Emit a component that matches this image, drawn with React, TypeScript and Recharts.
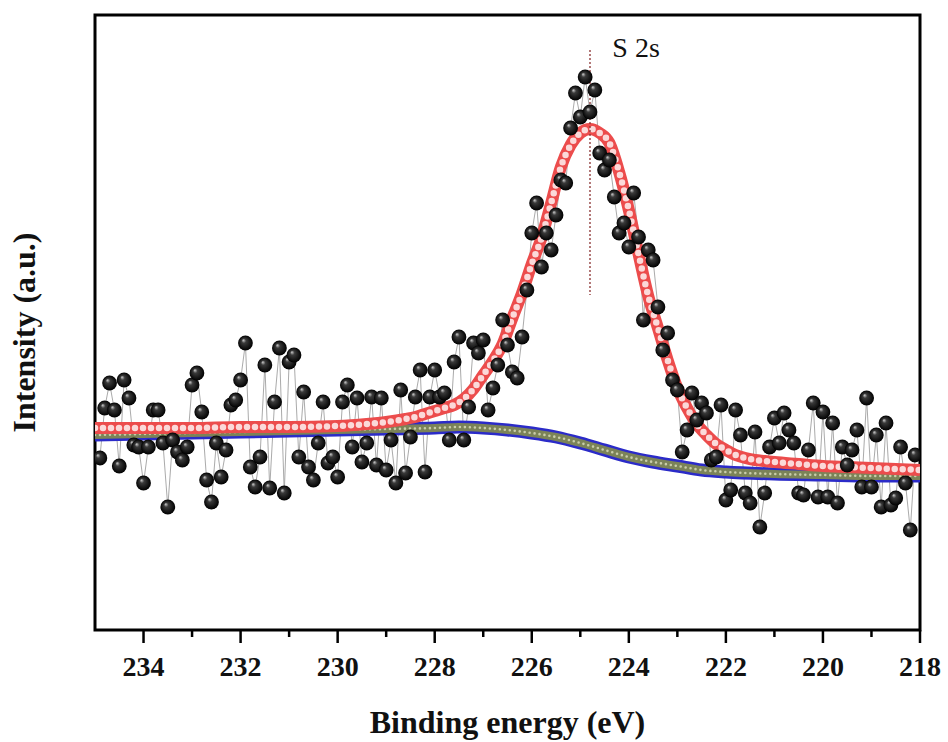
import React from "react";
import {
  ComposedChart, Line, XAxis, YAxis, Label, ReferenceArea, ReferenceLine, ReferenceDot,
} from "recharts";

const FONT = '"Liberation Serif", "Times New Roman", serif';

// measured spectrum (binding energy, eV)
const DATA_BE = [
  234.9, 234.8, 234.7, 234.6, 234.5, 234.4, 234.3, 234.2, 234.1, 234.0,
  233.9, 233.8, 233.7, 233.6, 233.5, 233.4, 233.3, 233.2, 233.1, 233.0,
  232.9, 232.8, 232.7, 232.6, 232.5, 232.4, 232.3, 232.2, 232.1, 232.0,
  231.9, 231.8, 231.7, 231.6, 231.5, 231.4, 231.3, 231.2, 231.1, 231.0,
  230.9, 230.8, 230.7, 230.6, 230.5, 230.4, 230.3, 230.2, 230.1, 230.0,
  229.9, 229.8, 229.7, 229.6, 229.5, 229.4, 229.3, 229.2, 229.1, 229.0,
  228.9, 228.8, 228.7, 228.6, 228.5, 228.4, 228.3, 228.2, 228.1, 228.0,
  227.9, 227.8, 227.7, 227.6, 227.5, 227.4, 227.3, 227.2, 227.1, 227.0,
  226.9, 226.8, 226.7, 226.6, 226.5, 226.4, 226.3, 226.2, 226.1, 226.0,
  225.9, 225.8, 225.7, 225.6, 225.5, 225.4, 225.3, 225.2, 225.1, 225.0,
  224.9, 224.8, 224.7, 224.6, 224.5, 224.4, 224.3, 224.2, 224.1, 224.0,
  223.9, 223.8, 223.7, 223.6, 223.5, 223.4, 223.3, 223.2, 223.1, 223.0,
  222.9, 222.8, 222.7, 222.6, 222.5, 222.4, 222.3, 222.2, 222.1, 222.0,
  221.9, 221.8, 221.7, 221.6, 221.5, 221.4, 221.3, 221.2, 221.1, 221.0,
  220.9, 220.8, 220.7, 220.6, 220.5, 220.4, 220.3, 220.2, 220.1, 220.0,
  219.9, 219.8, 219.7, 219.6, 219.5, 219.4, 219.3, 219.2, 219.1, 219.0,
  218.9, 218.8, 218.7, 218.6, 218.5, 218.4, 218.3, 218.2, 218.1,
];
const DATA_INT = [
  172, 222, 247, 220, 164, 250, 232, 185, 183, 147,
  183, 220, 220, 187, 123, 190, 178, 170, 183, 245,
  257, 218, 150, 128, 187, 153, 180, 225, 230, 250,
  287, 163, 143, 173, 265, 142, 228, 282, 137, 268,
  275, 173, 238, 163, 150, 187, 228, 167, 173, 153,
  228, 245, 183, 232, 168, 187, 233, 165, 232, 160,
  190, 147, 240, 157, 193, 233, 260, 158, 233, 260,
  233, 237, 190, 268, 293, 190, 223, 287, 277, 290,
  220, 242, 265, 310, 285, 258, 252, 293, 340, 397,
  427, 363, 397, 380, 415, 450, 447, 502, 537, 513,
  553, 518, 540, 477, 460, 470, 433, 397, 407, 383,
  437, 393, 310, 380, 370, 323, 280, 297, 250, 240,
  178, 200, 237, 210, 227, 217, 170, 173, 225, 130,
  140, 220, 195, 137, 127, 198, 103, 137, 183, 212,
  187, 217, 200, 187, 137, 135, 180, 227, 133, 218,
  133, 207, 127, 183, 165, 180, 200, 143, 232, 143,
  195, 123, 207, 125, 132, 183, 147, 100, 175,
];

// fitted envelope (S 2s peak + background)
const FIT_BE = [
  235.0, 234.0, 233.0, 232.0, 231.0, 230.0, 229.4, 229.0, 228.6, 228.4,
  228.2, 228.0, 227.8, 227.6, 227.4, 227.2, 227.0, 226.8, 226.6, 226.4,
  226.2, 226.0, 225.8, 225.6, 225.4, 225.2, 225.0, 224.8, 224.6, 224.4,
  224.2, 224.0, 223.8, 223.6, 223.4, 223.2, 223.0, 222.8, 222.6, 222.4,
  222.2, 222.0, 221.8, 221.6, 221.4, 221.2, 221.0, 220.5, 220.0, 219.5,
  219.0, 218.5, 218.0,
];
const FIT_INT = [
  202, 202, 202, 203, 203, 204, 206, 208, 211, 213,
  216, 219, 222, 225, 231, 241, 255, 269, 286, 312,
  337, 366, 392, 427, 463, 485, 497, 501, 497, 487,
  458, 420, 376, 334, 302, 270, 242, 222, 206, 195,
  186, 180, 175, 172, 170, 169, 168, 166, 164, 163,
  162, 161, 160,
];

// background
const BG_BE = [235.0, 234.0, 233.0, 232.0, 231.0, 230.0, 229.0, 228.0, 227.5, 227.0, 226.5, 226.0, 225.5, 225.0, 224.5, 224.0, 223.5, 223.0, 222.5, 222.0, 221.0, 220.0, 219.0, 218.0];
const BG_INT = [195, 196, 197, 198, 199, 200, 201, 202, 203, 202, 200, 197, 193, 187, 180, 173, 168, 164, 160, 158, 156, 155, 154, 154];

const TICKS = [234, 233, 232, 231, 230, 229, 228, 227, 226, 225, 224, 223, 222, 221, 220, 219, 218];
const PEAK_BE = 224.8;

const measured = DATA_BE.map((x, i) => ({ x, y: DATA_INT[i] }));
const fit = FIT_BE.map((x, i) => ({ x, y: FIT_INT[i] }));
const background = BG_BE.map((x, i) => ({ x, y: BG_INT[i] }));

const TICK_SIZE = 13;
const TICK_MARGIN = 12;

const BeTick = ({ x, y, payload }: any) => {
  const major = payload.value % 2 === 0;
  const y0 = y - TICK_SIZE - TICK_MARGIN;
  return (
    <g>
      <line x1={x} x2={x} y1={y0} y2={y0 + (major ? 13 : 7)} stroke="#000" strokeWidth={2.5} />
      {major && (
        <text x={x} y={y + 21} textAnchor="middle" fontFamily={FONT} fontWeight="bold" fontSize={28} fill="#111">
          {payload.value}
        </text>
      )}
    </g>
  );
};

const YTitle = ({ viewBox }: any) => {
  const cx = viewBox.x + 35;
  const cy = viewBox.y + viewBox.height / 2 + 10;
  return (
    <text x={cx} y={cy} transform={`rotate(-90 ${cx} ${cy})`} textAnchor="middle"
      fontFamily={FONT} fontWeight="bold" fontSize={32} fill="#111">
      Intensity (a.u.)
    </text>
  );
};

const Sphere = (p: any) => (
  <circle key={`s${p.index}`} cx={p.cx} cy={p.cy} r={7.4} fill="url(#sphere)" />
);

export default function App() {
  return (
    <div style={{ position: "absolute", left: 0, top: 0, width: 948, height: 742, background: "#fff" }}>
      <ComposedChart width={948} height={742} margin={{ top: 15, right: 28, bottom: 0, left: 0 }}>
        <defs>
          <radialGradient id="sphere" cx="0.5" cy="0.5" r="0.5" fx="0.35" fy="0.3">
            <stop offset="0%" stopColor="#d0d0d0" />
            <stop offset="30%" stopColor="#3a3a3a" />
            <stop offset="100%" stopColor="#000" />
          </radialGradient>
        </defs>
        <XAxis type="number" dataKey="x" domain={[218, 235]} reversed allowDataOverflow
          ticks={TICKS} interval={0} tick={<BeTick />} tickLine={false} axisLine={false}
          tickSize={TICK_SIZE} tickMargin={TICK_MARGIN} height={112}>
          <Label value="Binding energy (eV)" position="insideBottom" offset={9}
            fontFamily={FONT} fontWeight="bold" fontSize={32} fill="#111" />
        </XAxis>
        <YAxis type="number" domain={[0, 615]} allowDataOverflow width={95} tick={false} tickLine={false} axisLine={false}>
          <Label content={<YTitle />} />
        </YAxis>

        {/* measured points */}
        <Line data={measured} dataKey="y" type="linear" stroke="#a0a0a0" strokeWidth={0.9}
          dot={Sphere} activeDot={false} isAnimationActive={false} />

        {/* background */}
        <Line data={background} dataKey="y" type="monotone" stroke="#2b2bc8" strokeWidth={13}
          dot={false} activeDot={false} isAnimationActive={false} />
        <Line data={background} dataKey="y" type="monotone" stroke="#7b8358" strokeWidth={8}
          dot={false} activeDot={false} isAnimationActive={false} />
        <Line data={background} dataKey="y" type="monotone" stroke="#c9cdaa" strokeWidth={2.6}
          strokeDasharray="0 5" strokeLinecap="round" dot={false} activeDot={false} isAnimationActive={false} />

        {/* fit envelope */}
        <Line data={fit} dataKey="y" type="monotone" stroke="#ec4c4c" strokeWidth={12}
          dot={false} activeDot={false} isAnimationActive={false} />
        <Line data={fit} dataKey="y" type="monotone" stroke="#fbd9d9" strokeWidth={6.5}
          strokeDasharray="0 8" strokeLinecap="round" dot={false} activeDot={false} isAnimationActive={false} />

        <ReferenceLine segment={[{ x: PEAK_BE, y: 580 }, { x: PEAK_BE, y: 335 }]}
          stroke="#8a3030" strokeWidth={1.3} strokeDasharray="2 2" ifOverflow="visible" />
        <ReferenceDot x={223.85} y={583} r={1} fillOpacity={0} strokeOpacity={0} ifOverflow="visible"
          label={{ value: "S 2s", position: "center", fontFamily: FONT, fontSize: 28, fill: "#111" }} />

        <ReferenceArea x1={235} x2={218} y1={0} y2={615} fill="none" stroke="#000" strokeWidth={3}
          ifOverflow="visible" />
      </ComposedChart>
    </div>
  );
}
